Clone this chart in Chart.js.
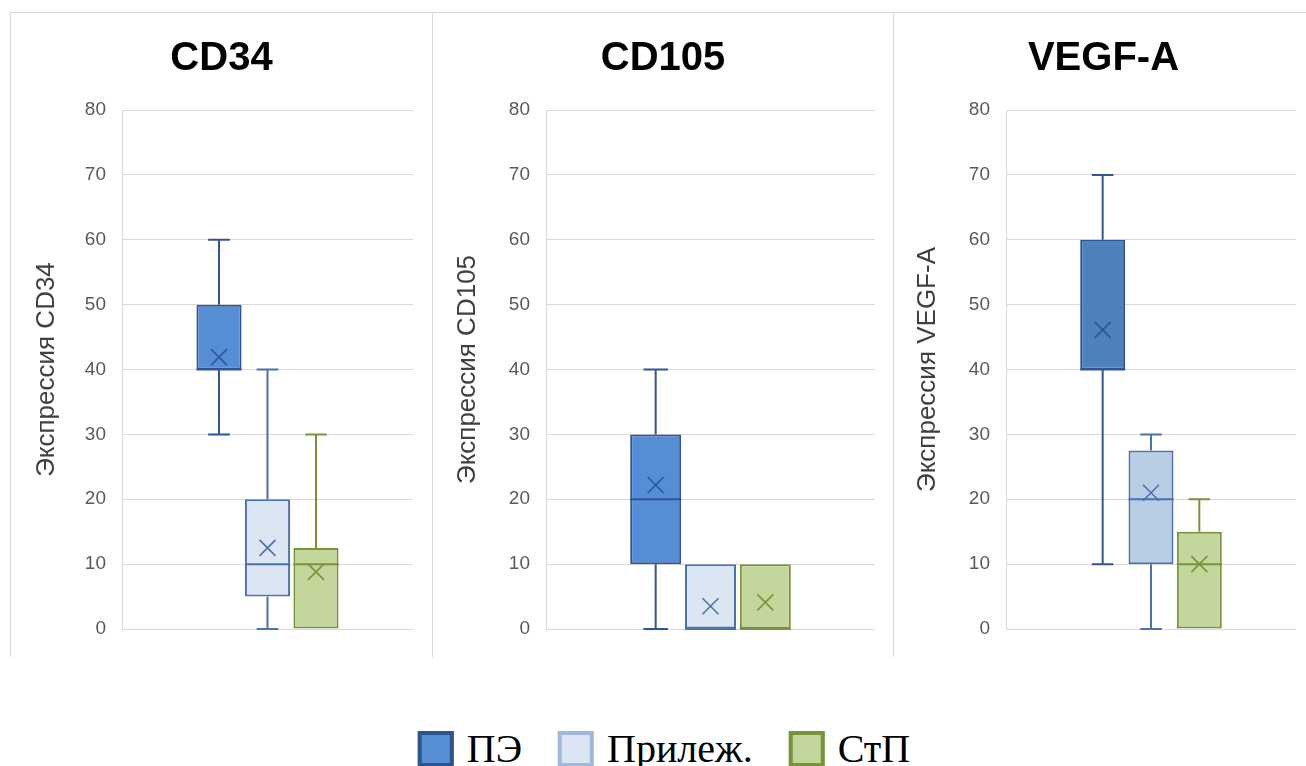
<!DOCTYPE html>
<html>
<head>
<meta charset="utf-8">
<script src="https://cdn.jsdelivr.net/npm/chart.js@4.4.1/dist/chart.umd.min.js"></script>
<style>
  body { margin: 0; width: 1306px; height: 766px; overflow: hidden; background: #fff; position: relative; }
  .panel { position: absolute; top: 12px; height: 645px; box-sizing: border-box;
           border-top: 1px solid #d9d9d9; border-left: 1px solid #d9d9d9; }
  .panel canvas { display: block; }
  #legend { position: absolute; top: 724px; left: 664px; transform: translateX(-50%);
            display: flex; align-items: flex-start; white-space: nowrap;
            font-family: "Liberation Serif", "Times New Roman", serif; font-size: 40px; line-height: 50px; color: #000; }
  #legend .item { display: flex; align-items: flex-start; margin-right: 36px; }
  #legend .item:last-child { margin-right: 0; }
  #legend .sw { width: 36px; height: 36px; box-sizing: border-box; border: 4px solid; margin-top: 7px; margin-right: 13px; }
</style>
</head>
<body>
<div class="panel" id="p1" style="left:10px;width:422px"><canvas id="c1" width="421" height="644"></canvas></div>
<div class="panel" id="p2" style="left:432px;width:461px"><canvas id="c2" width="460" height="644"></canvas></div>
<div class="panel" id="p3" style="left:893px;width:420px"><canvas id="c3" width="419" height="644"></canvas></div>
<div id="legend"></div>

<script>
// groups compared in every panel
const groups = ["ПЭ", "Прилеж.", "СтП"];
const markers = ["CD34", "CD105", "VEGF-A"];

// box stats per group: [min, q1, median, q3, max]
const cd34Box = [[30, 40, 40, 50, 60], [0, 5, 10, 20, 40], [0, 0, 10, 12.5, 30]];
const cd34Mean = [41.9, 12.5, 8.8];

const cd105Box = [[0, 10, 20, 30, 40], [0, 0, 0, 10, 10], [0, 0, 0, 10, 10]];
const cd105Mean = [22.2, 3.5, 4.1];

const vegfBox = [[10, 40, 40, 60, 70], [0, 10, 20, 27.5, 30], [0, 0, 10, 15, 20]];
const vegfMean = [46.1, 21.0, 10.0];

// y axis
const yMin = 0;
const yMax = 80;
const yStep = 10;

// colours
const lineColors = ["#2F5597", "#4A72AE", "#77933C"];
const fillsLight = ["#558ED5", "#DCE6F2", "#C3D69B"];
const fillsDark = ["#4F81BD", "#B9CDE5", "#C3D69B"];
const legendBorders = ["#2C5590", "#9DB9DE", "#77933C"];

// whiskers, median and mean cross on top of the floating bars
const boxPlugin = {
  id: "boxWhiskers",
  afterDatasetsDraw(chart) {
    const ctx = chart.ctx;
    const y = chart.scales.y;
    chart.data.datasets.forEach((ds, i) => {
      const bar = chart.getDatasetMeta(i).data[0];
      const s = ds.stats;
      const x = bar.x;
      const half = bar.width / 2;
      const cap = bar.width * 0.24;
      ctx.save();
      ctx.strokeStyle = ds.borderColor;
      ctx.lineWidth = 2;
      ctx.beginPath();
      if (s[0] < s[1]) {
        ctx.moveTo(x, y.getPixelForValue(s[1]));
        ctx.lineTo(x, y.getPixelForValue(s[0]));
        ctx.moveTo(x - cap, y.getPixelForValue(s[0]));
        ctx.lineTo(x + cap, y.getPixelForValue(s[0]));
      }
      if (s[4] > s[3]) {
        ctx.moveTo(x, y.getPixelForValue(s[3]));
        ctx.lineTo(x, y.getPixelForValue(s[4]));
        ctx.moveTo(x - cap, y.getPixelForValue(s[4]));
        ctx.lineTo(x + cap, y.getPixelForValue(s[4]));
      }
      ctx.moveTo(x - half, y.getPixelForValue(s[2]));
      ctx.lineTo(x + half, y.getPixelForValue(s[2]));
      ctx.stroke();

      // mean
      const my = y.getPixelForValue(ds.mean);
      const r = 8;
      ctx.lineWidth = 1.6;
      ctx.beginPath();
      ctx.moveTo(x - r, my - r);
      ctx.lineTo(x + r, my + r);
      ctx.moveTo(x + r, my - r);
      ctx.lineTo(x - r, my + r);
      ctx.stroke();
      ctx.restore();
    });
  }
};

function makeChart(id, title, boxes, means, fills, plotLeft, padRight) {
  const datasets = groups.map((g, i) => ({
    label: g,
    data: [[boxes[i][1], boxes[i][3]]],
    stats: boxes[i],
    mean: means[i],
    backgroundColor: fills[i],
    borderColor: lineColors[i],
    borderWidth: 2,
    borderSkipped: false,
    categoryPercentage: 0.5,
    barPercentage: 0.93
  }));

  // equal side padding keeps the title centred on the panel
  return new Chart(document.getElementById(id), {
    type: "bar",
    data: { labels: [""], datasets: datasets },
    plugins: [boxPlugin],
    options: {
      responsive: false,
      animation: false,
      layout: { padding: { left: padRight, right: padRight, top: 0, bottom: 28 } },
      plugins: {
        legend: { display: false },
        tooltip: { enabled: false },
        title: {
          display: true,
          text: title,
          color: "#000",
          font: { family: "Liberation Sans", size: 40, weight: "bold" },
          padding: { top: 22, bottom: 27 }
        }
      },
      scales: {
        x: { display: false },
        y: {
          min: yMin,
          max: yMax,
          afterFit: (scale) => { scale.width = plotLeft - padRight; },
          ticks: {
            stepSize: yStep,
            padding: 16,
            color: "#595959",
            font: { family: "Liberation Sans", size: 19 }
          },
          grid: { color: "#D9D9D9", drawTicks: false },
          border: { color: "#D9D9D9" },
          title: {
            display: true,
            text: "Экспрессия " + title,
            color: "#404040",
            font: { family: "Liberation Sans", size: 26 },
            padding: { top: 1, bottom: 0 }
          }
        }
      }
    }
  });
}

makeChart("c1", markers[0], cd34Box, cd34Mean, fillsLight, 111, 19);
makeChart("c2", markers[1], cd105Box, cd105Mean, fillsLight, 113, 18);
makeChart("c3", markers[2], vegfBox, vegfMean, fillsDark, 112, 17);

// shared legend under the panels
const legend = document.getElementById("legend");
groups.forEach((g, i) => {
  const item = document.createElement("div");
  item.className = "item";
  const sw = document.createElement("div");
  sw.className = "sw";
  sw.style.background = fillsLight[i];
  sw.style.borderColor = legendBorders[i];
  const txt = document.createElement("span");
  txt.textContent = g;
  item.appendChild(sw);
  item.appendChild(txt);
  legend.appendChild(item);
});
</script>
</body>
</html>
